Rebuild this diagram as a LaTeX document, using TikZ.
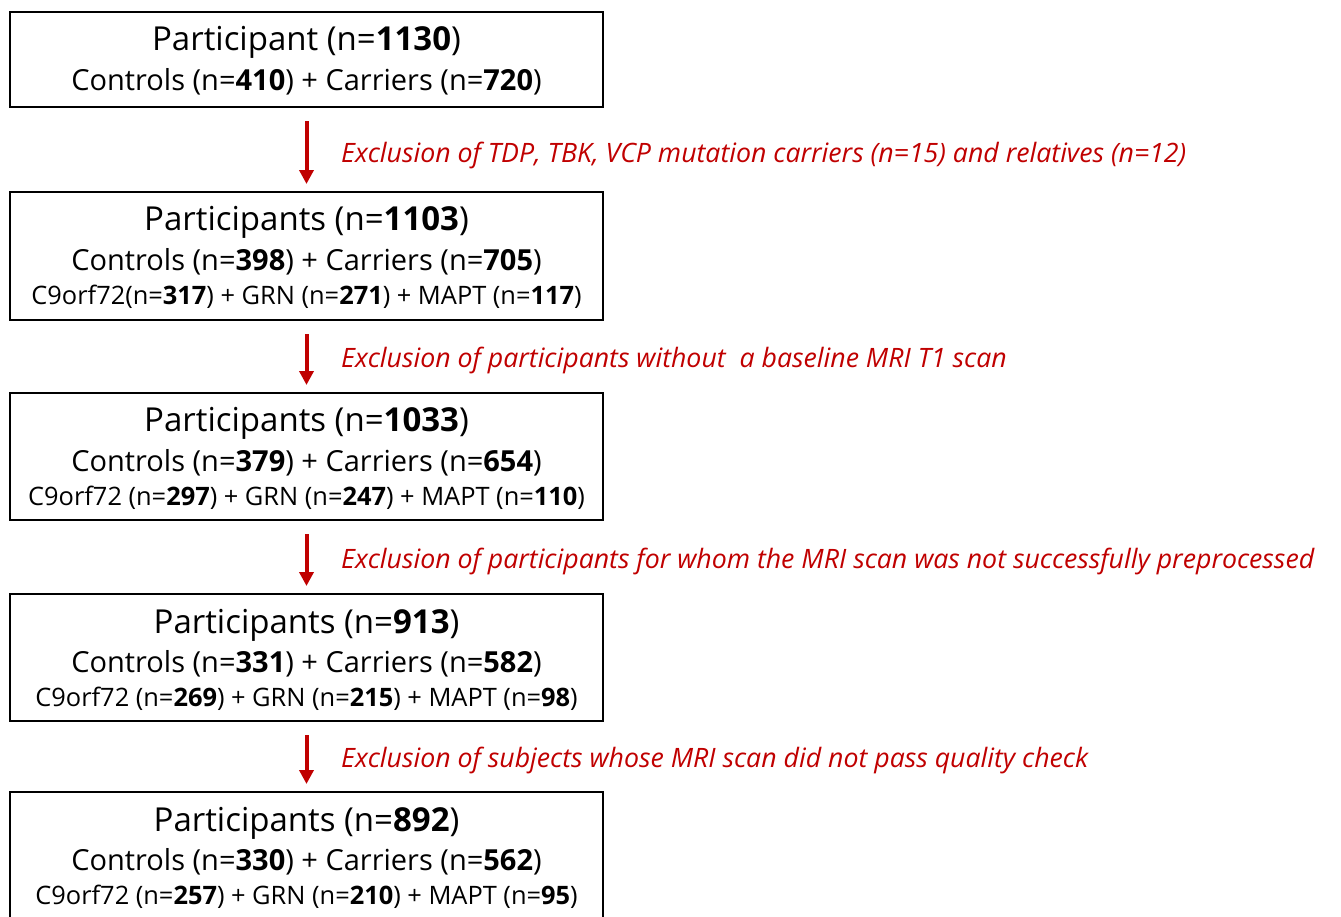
\documentclass[tikz,border=0pt]{standalone}
\usepackage{fontspec}
\setmainfont{Open Sans}
\usepackage{tikz}
\usetikzlibrary{arrows.meta}
\definecolor{exred}{HTML}{C00000}
\newcommand{\nb}[1]{\textbf{#1}}

\begin{document}
\begin{tikzpicture}[x=1pt, y=-1pt, >=Stealth,
  box/.style={draw, line width=2pt, minimum width=593pt, inner sep=0pt},
  headtxt/.style={font=\fontsize{33}{38}\selectfont},
  subtxt/.style={font=\fontsize{29}{34}\selectfont},
  genetxt/.style={font=\fontsize{25.4}{30}\selectfont},
  exclude/.style={anchor=west, inner sep=0pt, text=exred, font=\fontsize{26.7}{31}\selectfont\itshape},
  flow/.style={-{Triangle[width=14pt,length=14pt]}, line width=4pt, exred,
               shorten <=13pt, shorten >=7pt}]
  \useasboundingbox (0,0) rectangle (1341,916);
  \clip (0,0) rectangle (1341,916);

  % boxes
  \node[box, minimum height=95pt]  (b1) at (306.5,59.5) {};
  \node[box, minimum height=128pt] (b2) at (306.5,256) {};
  \node[box, minimum height=127pt] (b3) at (306.5,456.5) {};
  \node[box, minimum height=127pt] (b4) at (306.5,657.5) {};
  \node[box, minimum height=128pt] (b5) at (306.5,856) {};

  % box texts
  \node[headtxt] (b1a) at (306.5,42) {Participant (n=\nb{1130})};
  \node[subtxt]  (b1b) at (306.5,82) {Controls (n=\nb{410}) + Carriers (n=\nb{720})};

  \node[headtxt] (b2a) at (306.5,222) {Participants (n=\nb{1103})};
  \node[subtxt]  (b2b) at (306.5,262) {Controls (n=\nb{398}) + Carriers (n=\nb{705})};
  \node[genetxt] (b2c) at (306.5,297) {C9orf72(n=\nb{317}) + GRN (n=\nb{271}) + MAPT (n=\nb{117})};

  \node[headtxt] (b3a) at (306.5,423) {Participants (n=\nb{1033})};
  \node[subtxt]  (b3b) at (306.5,463) {Controls (n=\nb{379}) + Carriers (n=\nb{654})};
  \node[genetxt] (b3c) at (306.5,498) {C9orf72 (n=\nb{297}) + GRN (n=\nb{247}) + MAPT (n=\nb{110})};

  \node[headtxt] (b4a) at (306.5,625) {Participants (n=\nb{913})};
  \node[subtxt]  (b4b) at (306.5,664) {Controls (n=\nb{331}) + Carriers (n=\nb{582})};
  \node[genetxt] (b4c) at (306.5,699) {C9orf72 (n=\nb{269}) + GRN (n=\nb{215}) + MAPT (n=\nb{98})};

  \node[headtxt] (b5a) at (306.5,823) {Participants (n=\nb{892})};
  \node[subtxt]  (b5b) at (306.5,862) {Controls (n=\nb{330}) + Carriers (n=\nb{562})};
  \node[genetxt] (b5c) at (306.5,897) {C9orf72 (n=\nb{257}) + GRN (n=\nb{210}) + MAPT (n=\nb{95})};

  % exclusion steps
  \draw[flow] (b1) -- (b2);
  \draw[flow] (b2) -- (b3);
  \draw[flow] (b3) -- (b4);
  \draw[flow] (b4) -- (b5);

  \node[exclude] (x1) at (341,155) {Exclusion of TDP, TBK, VCP mutation carriers (n=15) and relatives (n=12)};
  \node[exclude] (x2) at (341,360) {Exclusion of participants without \ a baseline MRI T1 scan};
  \node[exclude] (x3) at (341,561) {Exclusion of participants for whom the MRI scan was not successfully preprocessed};
  \node[exclude] (x4) at (341,760) {Exclusion of subjects whose MRI scan did not pass quality check};
\end{tikzpicture}
\end{document}
